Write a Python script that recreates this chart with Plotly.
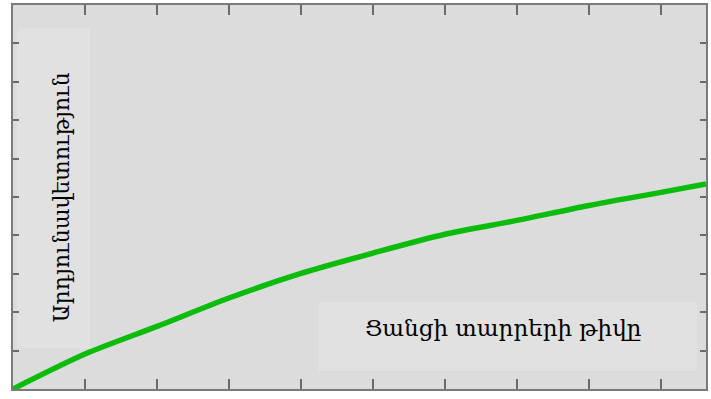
import plotly.graph_objects as go

# Data (x in tick units, y in tick units)
network_elements = [0, 1, 2, 3, 4, 5, 6, 7, 8, 9, 9.625]
efficiency = [0, 0.91, 1.63, 2.37, 3.01, 3.54, 4.03, 4.39, 4.78, 5.12, 5.34]

x_label = "Ցանցի տարրերի թիվը"
y_label = "Արդյունավետություն"

fig = go.Figure()
fig.add_trace(go.Scatter(
    x=network_elements, y=efficiency, mode="lines",
    line=dict(color="#0cbc0c", width=5.5, shape="spline", smoothing=0.8),
    hoverinfo="skip", showlegend=False,
))

axis_common = dict(
    showgrid=False, zeroline=False, showticklabels=False,
    ticks="inside", mirror="ticks", showline=True,
    linecolor="#7a7a7a", linewidth=2, tickcolor="#6a6a6a", tickwidth=2,
    dtick=1, tick0=0,
)
fig.update_xaxes(range=[0, 9.625], ticklen=10, **axis_common)
fig.update_yaxes(range=[0, 10], ticklen=6, **axis_common)

box_color = "#e1e1e1"
fig.add_shape(type="rect", xref="x", yref="y", x0=0.056, x1=1.07, y0=1.06, y1=9.38,
              fillcolor=box_color, line=dict(width=0), layer="below")
fig.add_shape(type="rect", xref="x", yref="y", x0=4.24, x1=9.5, y0=0.47, y1=2.25,
              fillcolor=box_color, line=dict(width=0), layer="below")

fig.add_annotation(x=6.8, y=1.58, xref="x", yref="y", text=x_label, showarrow=False,
                   font=dict(family="DejaVu Serif", size=23, color="black"))
fig.add_annotation(x=0.67, y=5.0, xref="x", yref="y", text=y_label, showarrow=False,
                   textangle=-90,
                   font=dict(family="DejaVu Serif", size=22, color="black"))

fig.update_layout(
    width=711, height=399,
    margin=dict(l=13, r=5, t=3, b=10),
    paper_bgcolor="white", plot_bgcolor="#dcdcdc",
)

fig.write_html("out.html", config={"displayModeBar": False},
               post_script="document.body.style.margin='0';")
